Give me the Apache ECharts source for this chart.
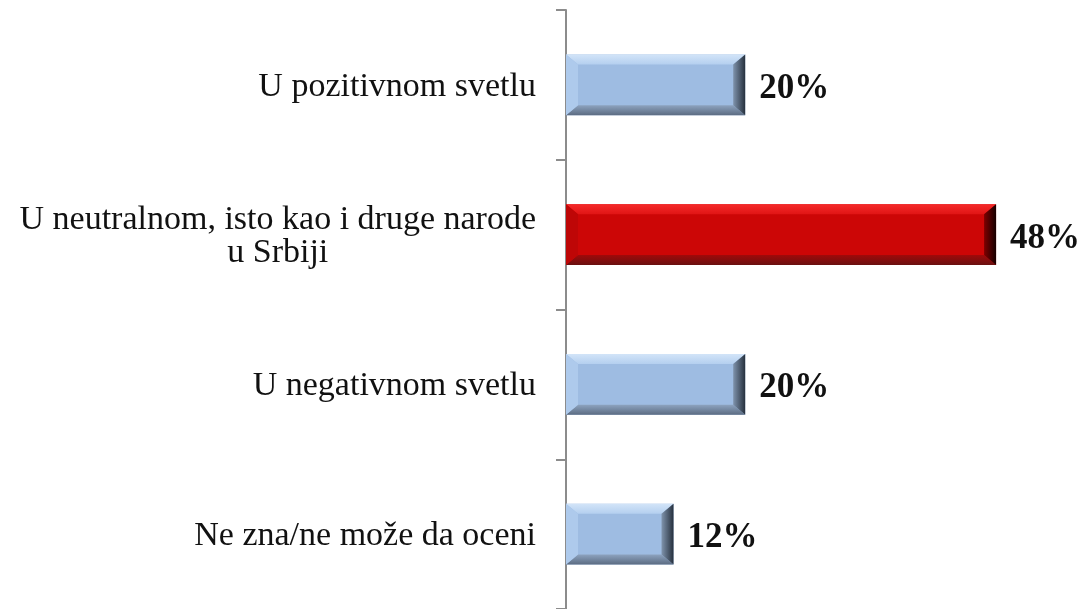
<!DOCTYPE html>
<html>
<head>
<meta charset="utf-8">
<script src="https://cdn.jsdelivr.net/npm/echarts@6/dist/echarts.min.js"></script>
<style>
  html, body { margin: 0; padding: 0; background: #fff; }
  #chart { width: 1084px; height: 609px; }
</style>
</head>
<body>
<div id="chart"></div>
<script>
const categories = [
  "U pozitivnom svetlu",
  "U neutralnom, isto kao i druge narode\nu Srbiji",
  "U negativnom svetlu",
  "Ne zna/ne može da oceni"
];
const values = [20, 48, 20, 12];
const highlightIndex = 1;

const blue = {
  face: "#9EBCE2", left: "#AECAEC",
  top: ["#D2E4F8", "#B4CFEF"], bottom: ["#8DA3BF", "#5C6C82"],
  right: ["#7F93AC", "#26303D"]
};
const red = {
  face: "#CC0606", left: "#BE0606",
  top: ["#F52A2A", "#E01414"], bottom: ["#A00A0A", "#6A1010"],
  right: ["#7E0000", "#160000"]
};

function vgrad(c) {
  return new echarts.graphic.LinearGradient(0, 0, 0, 1, [
    { offset: 0, color: c[0] }, { offset: 1, color: c[1] }
  ]);
}
function hgrad(c) {
  return new echarts.graphic.LinearGradient(0, 0, 1, 0, [
    { offset: 0, color: c[0] }, { offset: 1, color: c[1] }
  ]);
}

function renderBevelBar(params, api) {
  const cat = api.value(1);
  const val = api.value(0);
  const start = api.coord([0, cat]);
  const end = api.coord([val, cat]);
  const h = api.size([0, 1])[1] * 0.405;
  const x0 = start[0], x1 = end[0];
  const y0 = start[1] - h / 2, y1 = start[1] + h / 2;
  const bx = 12, by = 10;
  const pal = params.dataIndex === highlightIndex ? red : blue;

  return {
    type: "group",
    children: [
      {
        type: "rect",
        shape: { x: x0, y: y0, width: x1 - x0, height: h },
        style: { fill: pal.face },
        textContent: {
          style: {
            text: val + "%",
            font: "bold 35px 'Liberation Serif', serif",
            fill: "#111"
          }
        },
        textConfig: { position: "right", distance: 14, offset: [0, 4] }
      },
      {
        type: "polygon",
        shape: { points: [[x0, y0], [x1, y0], [x1 - bx, y0 + by], [x0 + bx, y0 + by]] },
        style: { fill: vgrad(pal.top) }
      },
      {
        type: "polygon",
        shape: { points: [[x0 + bx, y1 - by], [x1 - bx, y1 - by], [x1, y1], [x0, y1]] },
        style: { fill: vgrad(pal.bottom) }
      },
      {
        type: "polygon",
        shape: { points: [[x0, y0], [x0 + bx, y0 + by], [x0 + bx, y1 - by], [x0, y1]] },
        style: { fill: pal.left }
      },
      {
        type: "polygon",
        shape: { points: [[x1 - bx, y0 + by], [x1, y0], [x1, y1], [x1 - bx, y1 - by]] },
        style: { fill: hgrad(pal.right) }
      }
    ]
  };
}

const chart = echarts.init(document.getElementById("chart"));

chart.setOption({
  backgroundColor: "#fff",
  animation: false,
  grid: { left: 566, right: 70, top: 10, bottom: 0, containLabel: false },
  xAxis: {
    type: "value",
    min: 0,
    max: 50,
    show: false
  },
  yAxis: {
    type: "category",
    inverse: true,
    data: categories,
    axisLine: { lineStyle: { color: "#8C8C8C", width: 2 } },
    axisTick: { show: true, length: 10, lineStyle: { color: "#8C8C8C", width: 2 } },
    axisLabel: {
      margin: 30,
      formatter: function (v) { return "{t|" + v + "}"; },
      rich: {
        t: {
          fontFamily: "'Liberation Serif', serif",
          fontSize: 34,
          lineHeight: 33,
          color: "#111",
          align: "center",
          padding: [4, 0, 0, 0]
        }
      }
    }
  },
  series: [
    {
      type: "custom",
      renderItem: renderBevelBar,
      encode: { x: 0, y: 1 },
      data: values.map((v, i) => [v, i])
    }
  ]
});
</script>
</body>
</html>
